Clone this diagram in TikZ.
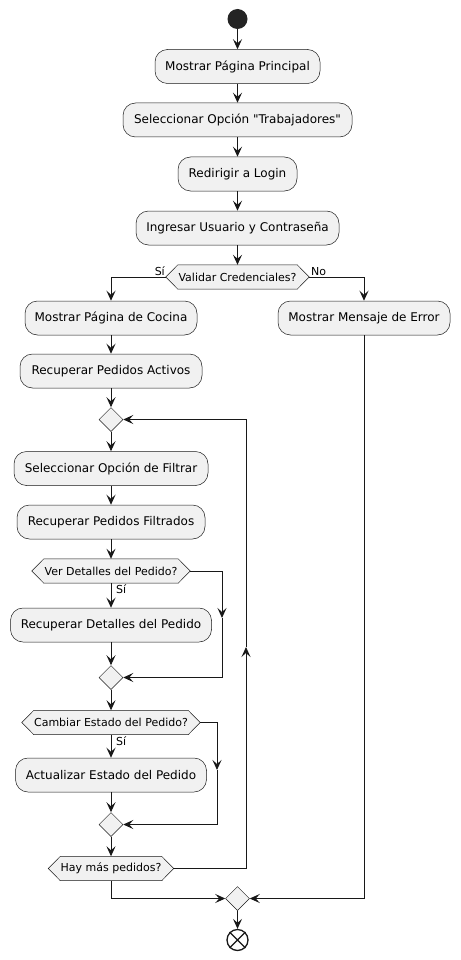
\documentclass[tikz,border=0pt]{standalone}
\usepackage{fontspec}
\setmainfont{DejaVu Sans}[Ligatures=TeXOff]
\usetikzlibrary{arrows.meta,shapes.geometric,backgrounds}
\definecolor{lc}{HTML}{181818}
\definecolor{bf}{HTML}{F1F1F1}
\tikzset{
  actbox/.style={draw=lc,line width=0.5pt,fill=bf,rounded corners=12.5pt,inner sep=0pt,minimum height=34pt,font=\fontsize{12}{14}\selectfont,text=black},
  dtext/.style={inner sep=0pt,minimum height=24pt,font=\fontsize{11}{13}\selectfont,text=black},
  hexstyle/.style={draw=lc,line width=0.5pt,fill=bf},
  merge/.style={diamond,draw=lc,line width=0.5pt,fill=bf,inner sep=0pt,minimum width=24pt,minimum height=24pt},
  flow/.style={draw=lc,line width=1pt,-{Stealth[length=10pt,width=9pt,inset=4pt]}},
  lbl/.style={inner sep=0pt,font=\fontsize{11}{13}\selectfont,text=black},
}
\newcommand{\hexa}[1]{\draw[hexstyle] ([xshift=-12pt]#1.west) -- (#1.north west) -- (#1.north east) -- ([xshift=12pt]#1.east) -- (#1.south east) -- (#1.south west) -- cycle;}
\begin{document}
\begin{tikzpicture}[x=1pt,y=-1pt]
\useasboundingbox (0,0) rectangle (460,960);
% start
\node[circle,fill=lc!95!white,inner sep=0pt,minimum size=20pt] (st) at (237.5,19) {};
% actions
\node[actbox,minimum width=165pt] (b1) at (237.5,66.5) {Mostrar Página Principal};
\node[actbox,minimum width=229pt] (b2) at (237.5,120) {Seleccionar Opción "Trabajadores"};
\node[actbox,minimum width=119pt] (b3) at (237.5,174) {Redirigir a Login};
\node[actbox,minimum width=203pt] (b4) at (237.5,228) {Ingresar Usuario y Contraseña};
\node[dtext,minimum width=119pt] (d1) at (237.5,277) {Validar Credenciales?};
\node[actbox,minimum width=172pt] (b5) at (111,318) {Mostrar Página de Cocina};
\node[actbox,minimum width=172pt] (b6) at (364,318) {Mostrar Mensaje de Error};
\node[actbox,minimum width=182pt] (b7) at (111,371) {Recuperar Pedidos Activos};
\node[merge] (m1) at (111,419.5) {};
\node[actbox,minimum width=194pt] (b8) at (111,468.5) {Seleccionar Opción de Filtrar};
\node[actbox,minimum width=188pt] (b9) at (111,522) {Recuperar Pedidos Filtrados};
\node[dtext,minimum width=134pt] (d2) at (111,571) {Ver Detalles del Pedido?};
\node[actbox,minimum width=201pt] (b10) at (111,625) {Recuperar Detalles del Pedido};
\node[merge] (m2) at (111,677.5) {};
\node[dtext,minimum width=154pt] (d3) at (111,722.5) {Cambiar Estado del Pedido?};
\node[actbox,minimum width=191pt] (b11) at (111,775) {Actualizar Estado del Pedido};
\node[merge] (m3) at (111,824.5) {};
\node[dtext,minimum width=101pt] (d4) at (111,868.5) {Hay más pedidos?};
\node[merge] (m4) at (237.5,898.5) {};
\node[circle,draw=lc,line width=1.3pt,fill=white,inner sep=0pt,minimum size=21pt] (en) at (237.5,940) {};
\draw[lc,line width=1.3pt] (en.north west) -- (en.south east) (en.north east) -- (en.south west);
\begin{scope}[on background layer]
\hexa{d1}\hexa{d2}\hexa{d3}\hexa{d4}
\end{scope}
% labels
\node[lbl,anchor=south east] (ls1) at (165,276) {Sí};
\node[lbl,anchor=south west] (ln1) at (311,276) {No};
\node[lbl,anchor=north west] (ls2) at (116,584.5) {Sí};
\node[lbl,anchor=north west] (ls3) at (116,736) {Sí};
% coordinates
\coordinate (va) at (222,618);
\coordinate (ca) at (217,770);
\coordinate (lp) at (246,647);
% connectors
\draw[flow] (st) -- (b1);
\draw[flow] (b1) -- (b2);
\draw[flow] (b2) -- (b3);
\draw[flow] (b3) -- (b4);
\draw[flow] (b4) -- (d1);
\draw[flow] ([xshift=-12pt]d1.west) -| (b5.north);
\draw[flow] ([xshift=12pt]d1.east) -| (b6.north);
\draw[flow] (b5) -- (b7);
\draw[flow] (b7) -- (m1);
\draw[flow] (m1) -- (b8);
\draw[flow] (b8) -- (b9);
\draw[flow] (b9) -- (d2);
\draw[flow] (d2) -- (b10);
\draw[flow] ([xshift=12pt]d2.east) -| (va);
\draw[flow] (va) |- (m2.east);
\draw[flow] (b10) -- (m2);
\draw[flow] (m2) -- (d3);
\draw[flow] (d3) -- (b11);
\draw[flow] ([xshift=12pt]d3.east) -| (ca);
\draw[flow] (ca) |- (m3.east);
\draw[flow] (b11) -- (m3);
\draw[flow] (m3) -- (d4);
\draw[flow] ([xshift=12pt]d4.east) -| (lp);
\draw[flow] (lp) |- (m1.east);
\draw[flow] (d4.south) |- (m4.west);
\draw[flow] (b6.south) |- (m4.east);
\draw[flow] (m4) -- (en);
\end{tikzpicture}
\end{document}
